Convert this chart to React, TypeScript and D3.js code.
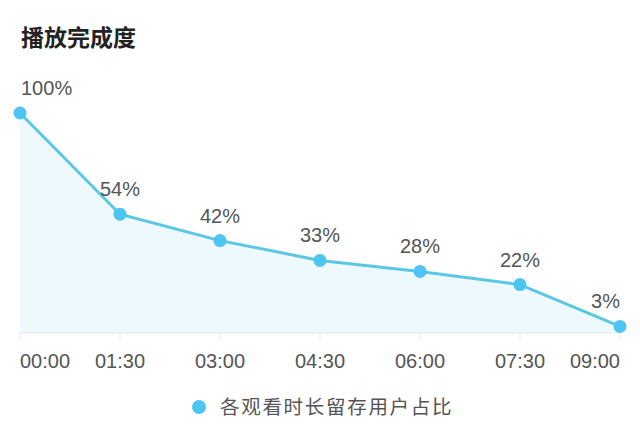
import React from "react";
import * as d3 from "d3";

const times = ["00:00", "01:30", "03:00", "04:30", "06:00", "07:30", "09:00"];
const retention = [100, 54, 42, 33, 28, 22, 3];
const title = "播放完成度";
const seriesName = "各观看时长留存用户占比";

const W = 640;
const H = 430;
const font = "'Liberation Sans', 'Noto Sans CJK SC', sans-serif";
const lineColor = "#5ac8e4";
const dotColor = "#4ec5f1";

const App = () => {
  const x = d3.scalePoint<string>().domain(times).range([20, 620]);
  const y = d3.scaleLinear().domain([0, 100]).range([333, 113]);

  const pts = times.map((t, i) => ({ t, v: retention[i], i }));

  const line = d3
    .line<typeof pts[number]>()
    .x((d) => x(d.t) as number)
    .y((d) => y(d.v));

  const area = d3
    .area<typeof pts[number]>()
    .x((d) => x(d.t) as number)
    .y0(y(0))
    .y1((d) => y(d.v));

  // first and last labels hug the edges so they stay inside
  const anchorFor = (i: number) =>
    i === 0 ? "start" : i === times.length - 1 ? "end" : "middle";

  return (
    <svg
      width={W}
      height={H}
      style={{ position: "absolute", left: 0, top: 0, background: "#fff" }}
      fontFamily={font}
    >
      <text x={21} y={46} fontSize={23} fontWeight="bold" fill="#222">
        {title}
      </text>

      <path d={area(pts) || ""} fill="#edf9fc" />

      {/* x axis */}
      <line x1={20} x2={620} y1={y(0)} y2={y(0)} stroke="#e4e8ea" strokeWidth={1} />
      {times.map((t) => (
        <line
          key={t}
          x1={x(t)}
          x2={x(t)}
          y1={y(0)}
          y2={y(0) + 7}
          stroke="#e4e8ea"
          strokeWidth={1}
        />
      ))}
      {times.map((t, i) => (
        <text
          key={t}
          x={x(t)}
          y={368}
          fontSize={20}
          fill="#555"
          textAnchor={anchorFor(i)}
        >
          {t}
        </text>
      ))}

      <path d={line(pts) || ""} fill="none" stroke={lineColor} strokeWidth={3} />

      {pts.map((d) => (
        <circle key={d.t} cx={x(d.t)} cy={y(d.v)} r={6.5} fill={dotColor} />
      ))}
      {pts.map((d) => (
        <text
          key={d.t}
          x={d.i === 0 ? 21 : x(d.t)}
          y={y(d.v) - 18}
          fontSize={20}
          fill="#555"
          textAnchor={anchorFor(d.i)}
        >
          {d.v}%
        </text>
      ))}

      {/* legend */}
      <circle cx={199} cy={407} r={7} fill={dotColor} />
      <text x={220} y={414} fontSize={19.5} fill="#555" letterSpacing={1.7}>
        {seriesName}
      </text>
    </svg>
  );
};

export default App;
